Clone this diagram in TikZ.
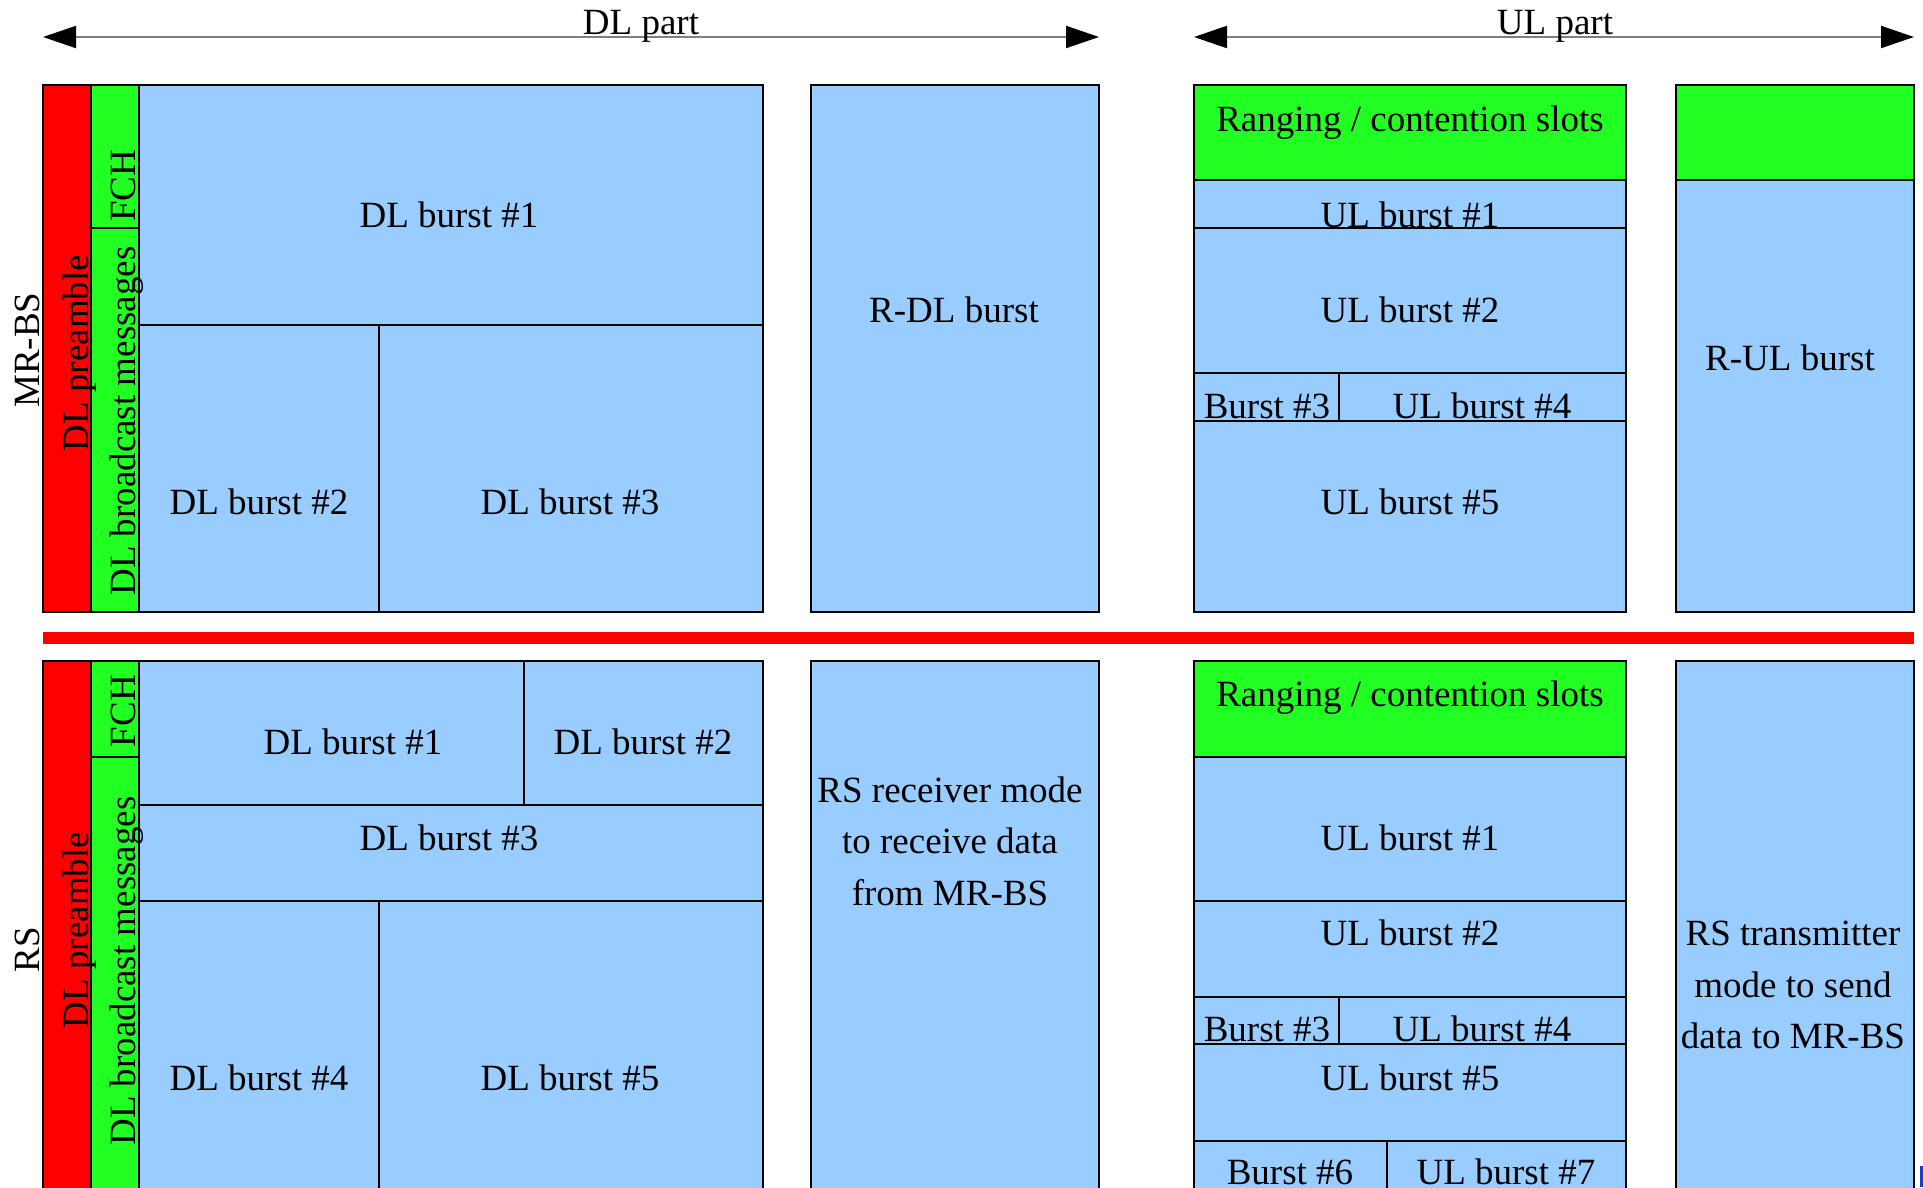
\documentclass[tikz,border=0pt]{standalone}
\usepackage{fontspec}
\setmainfont{Liberation Serif}
\usetikzlibrary{arrows.meta}
\definecolor{bblue}{HTML}{99CCFF}
\definecolor{bgreen}{HTML}{22FF22}
\definecolor{bred}{HTML}{FF0000}
\definecolor{agray}{HTML}{7F7F7F}
\definecolor{artblue}{HTML}{1A3CCC}
\tikzset{
  bluebox/.style={fill=bblue, draw=black, line width=1.8pt},
  greenbox/.style={fill=bgreen, draw=black, line width=1.8pt},
  redbox/.style={fill=bred, draw=black, line width=1.8pt},
  ln/.style={draw=black, line width=1.8pt},
  lbl/.style={font=\fontsize{37}{51.5}\selectfont, inner sep=0pt, text height=24.5pt, text depth=0pt},
  mlbl/.style={font=\fontsize{37}{51.5}\selectfont, inner sep=0pt, align=center},
  dimarrow/.style={draw=agray, line width=2pt,
    {Triangle[length=33pt,width=22pt,color=black]}-{Triangle[length=33pt,width=22pt,color=black]}}
}
\begin{document}
\begin{tikzpicture}[x=1pt,y=-1pt]
\useasboundingbox (0,0) rectangle (1923,1187);
\clip (0,0) rectangle (1923,1187);

% dimension arrows
\coordinate (dlL) at (43,37);
\coordinate (dlR) at (1099,37);
\coordinate (ulL) at (1194,37);
\coordinate (ulR) at (1914,37);
\draw[dimarrow] (dlL) -- (dlR);
\draw[dimarrow] (ulL) -- (ulR);
\node[lbl] (dlpart) at (641,22) {DL part};
\node[lbl] (ulpart) at (1555,22) {UL part};

% ===== MR-BS frame =====
\filldraw[redbox] (43,85) rectangle (91,612);
\filldraw[greenbox] (91,85) rectangle (139,612);
\draw[ln] (91,228) -- (139,228);
\filldraw[bluebox] (139,85) rectangle (763,612);
\draw[ln] (139,325) -- (763,325);
\draw[ln] (379,325) -- (379,612);
\filldraw[bluebox] (811,85) rectangle (1099,612);
\filldraw[bluebox] (1194,85) rectangle (1626,612);
\filldraw[greenbox] (1194,85) rectangle (1626,180);
\draw[ln] (1194,228) -- (1626,228);
\draw[ln] (1194,373) -- (1626,373);
\draw[ln] (1194,421) -- (1626,421);
\draw[ln] (1339,373) -- (1339,421);
\filldraw[bluebox] (1676,85) rectangle (1914,612);
\filldraw[greenbox] (1676,85) rectangle (1914,180);

\node[lbl, rotate=90] (mrbs) at (27,350) {MR-BS};
\node[lbl, rotate=90] (pre1) at (76,353) {DL preamble};
\node[lbl, rotate=90] (fch1) at (123,186) {FCH};
\node[lbl, rotate=90] (bc1) at (123,421) {DL broadcast messages};
\node[lbl] (a1) at (449,215) {DL burst \#1};
\node[lbl] (a2) at (259,502) {DL burst \#2};
\node[lbl] (a3) at (570,502) {DL burst \#3};
\node[lbl] (rdl) at (954,310) {R-DL burst};
\node[lbl] (rng1) at (1410,119) {Ranging / contention slots};
\node[lbl] (u1) at (1410,215) {UL burst \#1};
\node[lbl] (u2) at (1410,310) {UL burst \#2};
\node[lbl] (u3) at (1267,406) {Burst \#3};
\node[lbl] (u4) at (1482,406) {UL burst \#4};
\node[lbl] (u5) at (1410,502) {UL burst \#5};
\node[lbl] (rul) at (1790,358) {R-UL burst};

% separator
\fill[bred] (43,632) rectangle (1914,644);

% ===== RS frame =====
\filldraw[redbox] (43,661) rectangle (91,1200);
\filldraw[greenbox] (91,661) rectangle (139,1200);
\draw[ln] (91,757) -- (139,757);
\filldraw[bluebox] (139,661) rectangle (763,1200);
\draw[ln] (139,805) -- (763,805);
\draw[ln] (524,661) -- (524,805);
\draw[ln] (139,901) -- (763,901);
\draw[ln] (379,901) -- (379,1200);
\filldraw[bluebox] (811,661) rectangle (1099,1200);
\filldraw[bluebox] (1194,661) rectangle (1626,1200);
\filldraw[greenbox] (1194,661) rectangle (1626,757);
\draw[ln] (1194,901) -- (1626,901);
\draw[ln] (1194,997) -- (1626,997);
\draw[ln] (1194,1044) -- (1626,1044);
\draw[ln] (1339,997) -- (1339,1044);
\draw[ln] (1194,1141) -- (1626,1141);
\draw[ln] (1387,1141) -- (1387,1200);
\filldraw[bluebox] (1676,661) rectangle (1914,1200);
\fill[artblue] (1920,1166) rectangle (1923,1187);

\node[lbl, rotate=90] (rs) at (27,950) {RS};
\node[lbl, rotate=90] (pre2) at (76,930) {DL preamble};
\node[lbl, rotate=90] (fch2) at (123,711) {FCH};
\node[lbl, rotate=90] (bc2) at (123,971) {DL broadcast messages};
\node[lbl] (b1) at (353,742) {DL burst \#1};
\node[lbl] (b2) at (643,742) {DL burst \#2};
\node[lbl] (b3) at (449,838) {DL burst \#3};
\node[lbl] (b4) at (259,1078) {DL burst \#4};
\node[lbl] (b5) at (570,1078) {DL burst \#5};
\node[mlbl] (rsrx) at (950,841) {RS receiver mode\\to receive data\\from MR-BS};
\node[lbl] (rng2) at (1410,694) {Ranging / contention slots};
\node[lbl] (v1) at (1410,838) {UL burst \#1};
\node[lbl] (v2) at (1410,933) {UL burst \#2};
\node[lbl] (v3) at (1267,1029) {Burst \#3};
\node[lbl] (v4) at (1482,1029) {UL burst \#4};
\node[lbl] (v5) at (1410,1078) {UL burst \#5};
\node[lbl] (v6) at (1290,1172) {Burst \#6};
\node[lbl] (v7) at (1506,1172) {UL burst \#7};
\node[mlbl] (rstx) at (1793,985) {RS transmitter\\mode to send\\data to MR-BS};
\end{tikzpicture}
\end{document}
